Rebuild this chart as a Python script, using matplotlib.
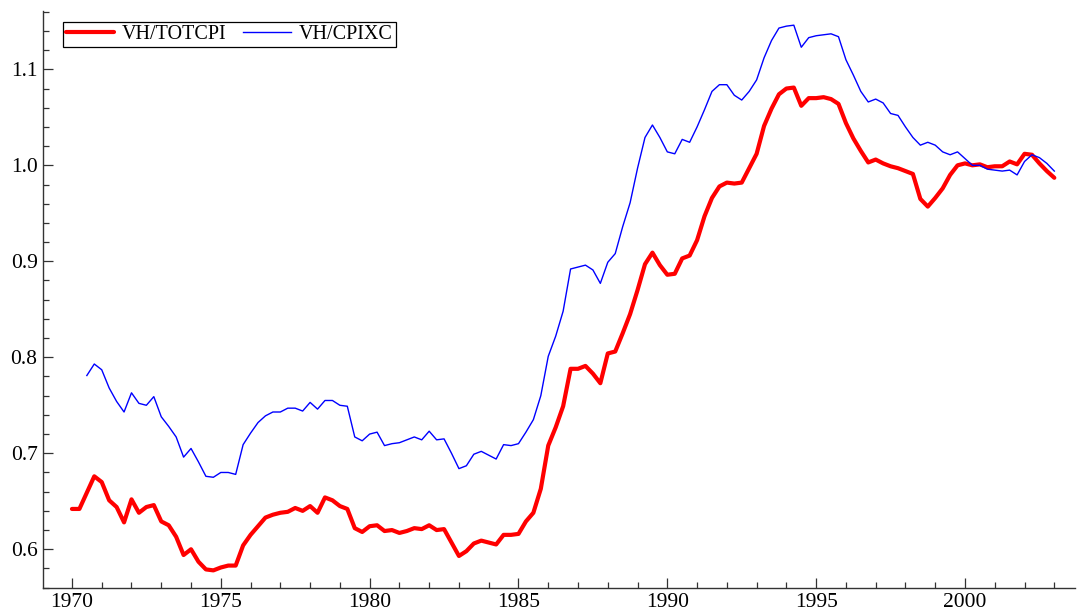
#!/usr/bin/env python3
# two quarterly ratio series, 1970-2003
import numpy as np
import matplotlib
matplotlib.use("Agg")
import matplotlib.pyplot as plt
from matplotlib.ticker import MultipleLocator

# VH/TOTCPI, quarterly from 1970Q1 to 2003Q1
totcpi_start = 1970.0
vh_totcpi = [
    0.642, 0.642, 0.659, 0.676,
    0.670, 0.651, 0.644, 0.628,
    0.652, 0.638, 0.644, 0.646,
    0.629, 0.625, 0.613, 0.594,
    0.600, 0.587, 0.579, 0.578,
    0.581, 0.583, 0.583, 0.604,
    0.615, 0.624, 0.633, 0.636,
    0.638, 0.639, 0.643, 0.640,
    0.645, 0.638, 0.654, 0.651,
    0.645, 0.642, 0.622, 0.618,
    0.624, 0.625, 0.619, 0.620,
    0.617, 0.619, 0.622, 0.621,
    0.625, 0.620, 0.621, 0.607,
    0.593, 0.598, 0.606, 0.609,
    0.607, 0.605, 0.615, 0.615,
    0.616, 0.629, 0.638, 0.663,
    0.708, 0.727, 0.749, 0.788,
    0.788, 0.791, 0.783, 0.773,
    0.804, 0.806, 0.825, 0.845,
    0.870, 0.897, 0.909, 0.896,
    0.886, 0.887, 0.903, 0.906,
    0.922, 0.947, 0.966, 0.978,
    0.982, 0.981, 0.982, 0.997,
    1.012, 1.041, 1.059, 1.074,
    1.080, 1.081, 1.062, 1.070,
    1.070, 1.071, 1.069, 1.064,
    1.044, 1.028, 1.015, 1.003,
    1.006, 1.002, 0.999, 0.997,
    0.994, 0.991, 0.965, 0.957,
    0.966, 0.976, 0.990, 1.000,
    1.002, 1.000, 1.001, 0.998,
    0.999, 0.999, 1.004, 1.001,
    1.012, 1.011, 1.002, 0.994,
    0.987,
]

# VH/CPIXC, quarterly from 1970Q3 to 2003Q1
cpixc_start = 1970.5
vh_cpixc = [
    0.781, 0.793,
    0.787, 0.768, 0.754, 0.743,
    0.763, 0.752, 0.750, 0.759,
    0.738, 0.728, 0.717, 0.696,
    0.705, 0.691, 0.676, 0.675,
    0.680, 0.680, 0.678, 0.709,
    0.721, 0.732, 0.739, 0.743,
    0.743, 0.747, 0.747, 0.744,
    0.753, 0.746, 0.755, 0.755,
    0.750, 0.749, 0.717, 0.713,
    0.720, 0.722, 0.708, 0.710,
    0.711, 0.714, 0.717, 0.714,
    0.723, 0.714, 0.715, 0.700,
    0.684, 0.687, 0.699, 0.702,
    0.698, 0.694, 0.709, 0.708,
    0.710, 0.722, 0.735, 0.760,
    0.801, 0.822, 0.848, 0.892,
    0.894, 0.896, 0.891, 0.877,
    0.899, 0.908, 0.936, 0.961,
    0.997, 1.029, 1.042, 1.029,
    1.014, 1.012, 1.027, 1.024,
    1.040, 1.058, 1.077, 1.084,
    1.084, 1.073, 1.068, 1.077,
    1.089, 1.112, 1.130, 1.143,
    1.145, 1.146, 1.123, 1.133,
    1.135, 1.136, 1.137, 1.134,
    1.110, 1.094, 1.077, 1.066,
    1.069, 1.065, 1.054, 1.052,
    1.040, 1.029, 1.021, 1.024,
    1.021, 1.014, 1.011, 1.014,
    1.007, 1.000, 1.000, 0.996,
    0.995, 0.994, 0.995, 0.990,
    1.004, 1.011, 1.008, 1.002,
    0.994,
]

t_tot = totcpi_start + 0.25 * np.arange(len(vh_totcpi))
t_xc = cpixc_start + 0.25 * np.arange(len(vh_cpixc))

plt.rcParams['font.family'] = ['Liberation Serif', 'DejaVu Serif']

fig = plt.figure(figsize=(10.77, 6.15), dpi=100)
ax = fig.add_axes([0.040, 0.044, 0.958, 0.938])

ax.plot(t_tot, vh_totcpi, color='#ff0000', lw=3.0, label='VH/TOTCPI',
        solid_joinstyle='round', solid_capstyle='round')
ax.plot(t_xc, vh_cpixc, color='#0000ff', lw=1.0, label='VH/CPIXC')

ax.set_xlim(1969.03, 2003.69)
ax.set_ylim(0.5597, 1.1607)

ax.xaxis.set_major_locator(MultipleLocator(5))
ax.xaxis.set_minor_locator(MultipleLocator(1))
ax.yaxis.set_major_locator(MultipleLocator(0.1))
ax.yaxis.set_minor_locator(MultipleLocator(0.02))
ax.yaxis.set_major_formatter(matplotlib.ticker.FormatStrFormatter('%.1f'))

for s in ('top', 'right'):
    ax.spines[s].set_visible(False)
for s in ('left', 'bottom'):
    ax.spines[s].set_color('#333333')
    ax.spines[s].set_linewidth(1.0)

ax.tick_params(which='both', direction='in', color='#333333', width=0.9,
               labelsize=15.5, labelcolor='black')
ax.tick_params(which='major', length=7)
ax.tick_params(which='minor', length=4.5)
ax.tick_params(axis='x', which='major', pad=4)
ax.tick_params(axis='y', which='major', pad=4)

leg = ax.legend(loc='upper left', bbox_to_anchor=(0.019, 0.981), ncol=2,
                fontsize=14.5, frameon=True, fancybox=False, shadow=False,
                handlelength=2.4, handletextpad=0.4, columnspacing=0.8,
                borderpad=0.15, borderaxespad=0.0)
leg.get_frame().set_edgecolor('black')
leg.get_frame().set_linewidth(0.9)
leg.get_frame().set_alpha(1.0)

fig.savefig('out.png', dpi=100)
